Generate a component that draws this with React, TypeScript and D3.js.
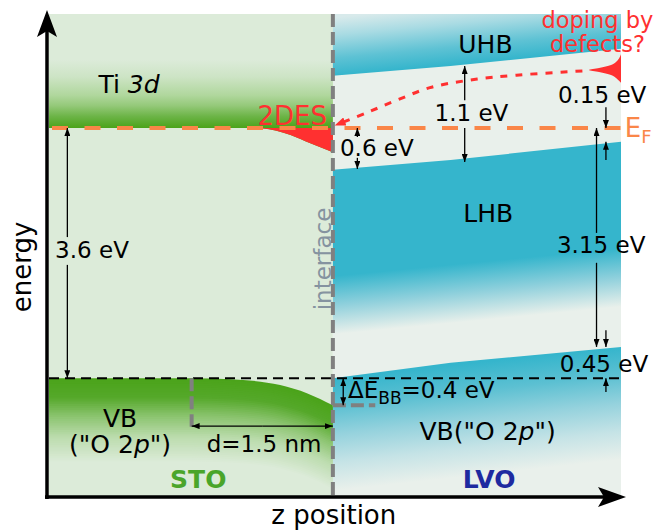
import React from "react";
import * as d3 from "d3";

// z in nm (interface = 0), energy in eV (E_F = 0)
const stoCbEdge = [[-3.015, 0], [-0.8, 0], [-0.6, -0.04], [-0.45, -0.1], [-0.24, -0.22], [0, -0.35]];
const stoVbEdge = [[-3.015, -3.6], [-1.5, -3.6], [-1.09, -3.615], [-0.56, -3.7], [-0.27, -3.82], [0, -3.99]];
const uhbEdge = [[0, 0.75], [1.25, 0.89], [3.06, 1.14]];
const lhbEdge = [[0, -0.6], [1.25, -0.46], [3.06, -0.2]];
const lvoVbEdge = [[0, -3.6], [1.25, -3.38], [3.06, -3.15]];
const dopingPath = [[2.65, 0.82], [1.95, 0.76], [1.46, 0.69], [1.03, 0.58], [0.68, 0.4], [0.36, 0.22], [0.03, 0.04]];
const defectE = [1.06, 1.0, 0.95, 0.907, 0.864, 0.835, 0.806, 0.763, 0.72, 0.68, 0.65];
const defectW = [0, 0.021, 0.053, 0.106, 0.233, 0.34, 0.233, 0.106, 0.053, 0.021, 0];

// measurement arrows: [z1, e1, z2, e2], head at (z2, e2)
const arrows = [
  [-2.82, -1.57, -2.82, 0], [-2.82, -1.97, -2.82, -3.6],
  [1.4, 0.4, 1.4, 0.89], [1.4, 0, 1.4, -0.49],
  [0.26, -0.13, 0.26, 0], [0.26, -0.43, 0.26, -0.59],
  [2.9, 0.3, 2.9, 0], [2.9, -0.46, 2.9, -0.2],
  [2.8, -1.51, 2.8, 0], [2.8, -1.94, 2.8, -3.15],
  [2.9, -2.91, 2.9, -3.15], [2.9, -3.8, 2.9, -3.6],
  [0.11, -3.8, 0.11, -3.6], [0.11, -3.8, 0.11, -3.99],
  [-0.75, -4.29, -1.5, -4.29], [-0.75, -4.29, 0, -4.29],
];

const numLabels = [
  { t: "3.6 eV", z: -2.95, e: -1.87 },
  { t: "1.1 eV", z: 1.08, e: 0.1 },
  { t: "0.6 eV", z: 0.075, e: -0.4 },
  { t: "0.15 eV", z: 2.39, e: 0.36 },
  { t: "3.15 eV", z: 2.38, e: -1.8 },
  { t: "0.45 eV", z: 2.41, e: -3.51 },
  { t: "d=1.5 nm", z: -1.34, e: -4.66 },
];

const dopingLines = ["doping by", "defects?"];

const teal = "#35b5cc";
const stoBg = "#dcebd9";
const lvoBg = "#e9f0eb";
const red = "#ff3030";
const orange = "#fa8648";
const font = "DejaVu Sans";

export default function App() {
  const z = d3.scaleLinear().domain([-3.015, 3.06]).range([49, 621]);
  const e = d3.scaleLinear().domain([-5.31, 1.64]).range([497, 14]);
  const [zL, zR] = z.domain();
  const [eBot, eTop] = e.domain();

  const topArea = d3.area<number[]>().x(d => z(d[0])).y0(e(eTop)).y1(d => e(d[1])).curve(d3.curveMonotoneX);
  const botArea = d3.area<number[]>().x(d => z(d[0])).y0(e(eBot)).y1(d => e(d[1])).curve(d3.curveMonotoneX);
  const topLin = d3.area<number[]>().x(d => z(d[0])).y0(e(eTop)).y1(d => e(d[1]));
  const botLin = d3.area<number[]>().x(d => z(d[0])).y0(e(eBot)).y1(d => e(d[1]));
  const desArea = d3.area<number[]>().x(d => z(d[0])).y0(e(0)).y1(d => e(d[1])).curve(d3.curveMonotoneX);
  const lhbArea = d3.area<number[]>().x(d => z(d[0])).y0(d => e(d[1]))
    .y1((d, i) => e(lvoVbEdge[i][1]));
  const curve = d3.line<number[]>().x(d => z(d[0])).y(d => e(d[1])).curve(d3.curveCatmullRom);
  const defect = d3.area<number>().y((d, i) => e(defectE[i])).x0(z(zR)).x1(d => z(zR - d)).curve(d3.curveMonotoneY);

  // STO valence band: shade follows the bent edge (stacked shifted copies)
  const vbShade = d3.scaleLinear<string>()
    .domain([0, 0.22, 0.45, 0.7, 1])
    .range(["#4ba31a", "#55a82a", "#8cc470", "#bcdcae", stoBg]);
  const vbDepth = 1.2; // eV over which the shade fades
  const vbLayers = d3.range(0, 1.0001, 1 / 45);

  // gradient vector perpendicular to a straight band edge
  const grad = (edge: number[][], off: number, len: number) => {
    const x0 = z(edge[0][0]), y0 = e(edge[0][1]);
    const x1 = z(edge[edge.length - 1][0]), y1 = e(edge[edge.length - 1][1]);
    const s = (y1 - y0) / (x1 - x0);
    const n = Math.hypot(s, 1);
    const nx = -s / n, ny = 1 / n;
    return { x1: x0 + nx * off, y1: y0 + ny * off, x2: x0 + nx * (off + len), y2: y0 + ny * (off + len) };
  };

  const ax = 47, ay = 497;

  return (
    <svg width={666} height={531} style={{ display: "block", position: "absolute", left: 0, top: 0 }} fontFamily={font}>
      <defs>
        <linearGradient id="cbG" gradientUnits="userSpaceOnUse" x1={0} x2={0} y1={e(0.98)} y2={e(0)}>
          <stop offset="0" stopColor={stoBg} />
          <stop offset="0.25" stopColor="#cde4c5" />
          <stop offset="0.52" stopColor="#b0d79d" />
          <stop offset="0.67" stopColor="#95c97a" />
          <stop offset="0.83" stopColor="#6cb447" />
          <stop offset="1" stopColor="#4ba31a" />
        </linearGradient>
        <linearGradient id="uhbG" gradientUnits="userSpaceOnUse" {...grad(uhbEdge, 0, -58)}>
          <stop offset="0" stopColor={teal} />
          <stop offset="0.3" stopColor="#5ec2d4" />
          <stop offset="0.7" stopColor="#a9dbe3" />
          <stop offset="1" stopColor="#d8eaeb" />
        </linearGradient>
        <linearGradient id="lhbG" gradientUnits="userSpaceOnUse" {...grad(lhbEdge, 106, 58)}>
          <stop offset="0" stopColor={teal} />
          <stop offset="0.5" stopColor="#8fd0dc" />
          <stop offset="1" stopColor={lvoBg} />
        </linearGradient>
        <linearGradient id="lvbG" gradientUnits="userSpaceOnUse" {...grad(lvoVbEdge, 0, 112)}>
          <stop offset="0" stopColor={teal} />
          <stop offset="0.25" stopColor="#5cc0d2" />
          <stop offset="0.5" stopColor="#95d2dd" />
          <stop offset="0.75" stopColor="#c5e3e6" />
          <stop offset="1" stopColor={lvoBg} />
        </linearGradient>
        <marker id="ah" viewBox="0 0 8 6" refX={8} refY={3} markerWidth={8} markerHeight={6}
          markerUnits="userSpaceOnUse" orient="auto">
          <path d="M0,0 L8,3 L0,6 Z" fill="#000" />
        </marker>
        <marker id="rh" viewBox="0 0 10 8" refX={9} refY={4} markerWidth={11} markerHeight={9}
          markerUnits="userSpaceOnUse" orient="auto">
          <path d="M0,0 L10,4 L0,8 Z" fill={red} />
        </marker>
        <clipPath id="stoClip">
          <rect x={z(zL)} y={e(eTop)} width={z(0) - z(zL)} height={e(eBot) - e(eTop)} />
        </clipPath>
      </defs>

      {/* regions */}
      <rect x={z(zL)} y={e(eTop)} width={z(0) - z(zL)} height={e(eBot) - e(eTop)} fill={stoBg} />
      <rect x={z(0)} y={e(eTop)} width={z(zR) - z(0)} height={e(eBot) - e(eTop)} fill={lvoBg} />

      {/* STO bands */}
      <path d={topArea(stoCbEdge) ?? ""} fill="url(#cbG)" />
      <path d={desArea(stoCbEdge.filter(d => d[0] >= -0.8)) ?? ""} fill={red} />
      <g clipPath="url(#stoClip)">
        {vbLayers.map((t, i) => (
          <path key={i} d={botArea(stoVbEdge.map(p => [p[0], p[1] - t * vbDepth])) ?? ""} fill={vbShade(t)} />
        ))}
      </g>

      {/* LVO bands */}
      <path d={topLin(uhbEdge) ?? ""} fill="url(#uhbG)" />
      <path d={lhbArea(lhbEdge) ?? ""} fill="url(#lhbG)" />
      <path d={botLin(lvoVbEdge) ?? ""} fill="url(#lvbG)" />

      {/* reference lines */}
      <line x1={z(zL) + 3} x2={z(zR)} y1={e(0)} y2={e(0)} stroke={orange} strokeWidth={4} strokeDasharray="16 16.5" />
      <line x1={z(zL)} x2={z(zR)} y1={e(-3.6)} y2={e(-3.6)} stroke="#000" strokeWidth={2} strokeDasharray="10 6" />
      <line x1={z(0)} x2={z(0)} y1={e(eTop)} y2={e(eBot)} stroke="#808080" strokeWidth={4} strokeDasharray="13 5" />
      <line x1={z(-1.5)} x2={z(-1.5)} y1={e(-3.6)} y2={e(-4.3)} stroke="#808080" strokeWidth={4} strokeDasharray="13 5" />
      <line x1={z(0)} x2={z(0.45)} y1={e(-3.99)} y2={e(-3.99)} stroke="#808080" strokeWidth={4} strokeDasharray="13 5" />

      {/* defect states and doping path */}
      <path d={defect(defectW) ?? ""} fill={red} />
      <path d={curve(dopingPath) ?? ""} fill="none" stroke={red} strokeWidth={3} strokeDasharray="7 8" markerEnd="url(#rh)" />

      {/* measurement arrows */}
      {arrows.map((a, i) => (
        <line key={i} x1={z(a[0])} y1={e(a[1])} x2={z(a[2])} y2={e(a[3])} stroke="#000" strokeWidth={1.3} markerEnd="url(#ah)" />
      ))}

      {/* labels */}
      {numLabels.map((l, i) => (
        <text key={i} x={z(l.z)} y={e(l.e)} fontSize={23} fill="#000">{l.t}</text>
      ))}
      <text x={z(-2.49)} y={e(0.5)} fontSize={25}>Ti <tspan fontStyle="italic">3d</tspan></text>
      <text x={z(-0.8)} y={e(0.04)} fontSize={26} fill={red}>2DES</text>
      <text x={z(1.62)} y={e(1.08)} fontSize={25} textAnchor="middle">UHB</text>
      <text x={z(1.65)} y={e(-1.35)} fontSize={25} textAnchor="middle">LHB</text>
      {dopingLines.map((t, i) => (
        <text key={t} x={z(2.81)} y={e(1.44 - i * 0.345)} fontSize={22.5} fill={red} textAnchor="middle">{t}</text>
      ))}
      <text x={z(3.1)} y={e(-0.13)} fontSize={26} fill={orange}>E<tspan fontSize={18} dy={6}>F</tspan></text>
      <text x={z(0.16)} y={e(-3.885)} fontSize={23}>ΔE<tspan fontSize={17} dy={6}>BB</tspan><tspan dy={-6}>=0.4 eV</tspan></text>
      <text x={z(-2.26)} y={e(-4.3)} fontSize={25} textAnchor="middle">VB</text>
      <text x={z(-2.26)} y={e(-4.68)} fontSize={25} textAnchor="middle">("O 2<tspan fontStyle="italic">p</tspan>")</text>
      <text x={z(0.92)} y={e(-4.49)} fontSize={25}>VB("O 2<tspan fontStyle="italic">p</tspan>")</text>
      <text x={z(-1.43)} y={e(-5.18)} fontSize={25} fontWeight="bold" fill="#4aa52a" textAnchor="middle">STO</text>
      <text x={z(1.66)} y={e(-5.18)} fontSize={25} fontWeight="bold" fill="#1e2aa0" textAnchor="middle">LVO</text>
      <text transform={`translate(${z(-0.025)},${e(-1.885)}) rotate(-90)`} fontSize={23} fill="#8593a0" textAnchor="middle">interface</text>

      {/* axes */}
      <line x1={ax} x2={ax} y1={ay + 2} y2={28} stroke="#000" strokeWidth={3.5} />
      <path d={`M${ax},10 L${ax - 10},37 L${ax},31 L${ax + 10},37 Z`} fill="#000" />
      <line x1={ax - 2} x2={606} y1={ay} y2={ay} stroke="#000" strokeWidth={3.5} />
      <path d={`M626,${ay} L598,${ay - 10} L604,${ay} L598,${ay + 10} Z`} fill="#000" />
      <text transform={`translate(${31},${e(-2.0)}) rotate(-90)`} fontSize={26} textAnchor="middle">energy</text>
      <text x={z(0.01)} y={524} fontSize={26} textAnchor="middle">z position</text>
    </svg>
  );
}
